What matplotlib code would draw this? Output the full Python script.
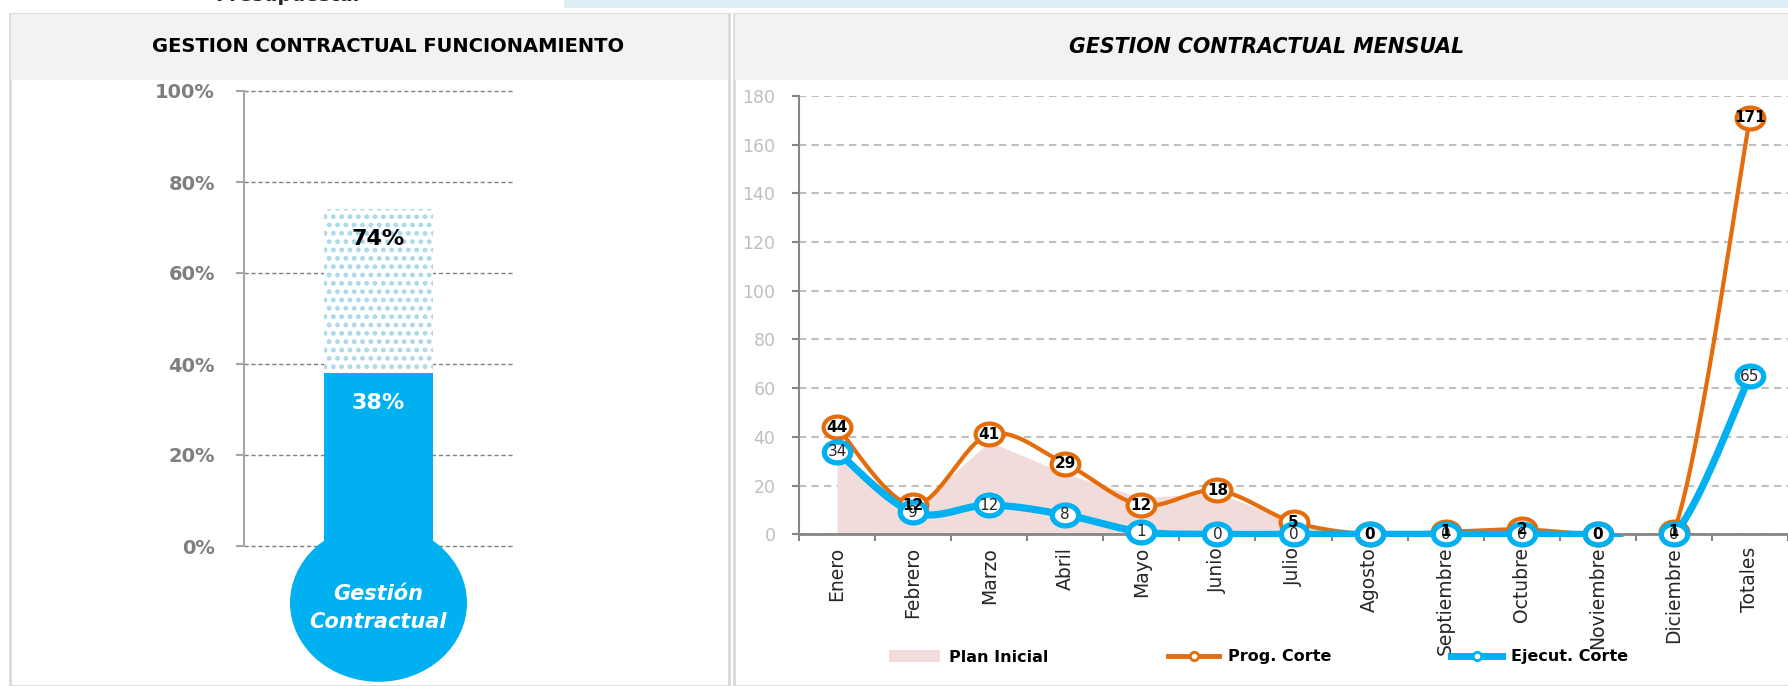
import numpy as np
import matplotlib.pyplot as plt
from matplotlib.patches import Rectangle, Ellipse, Patch
from matplotlib.lines import Line2D
from matplotlib.path import Path
from matplotlib.transforms import Affine2D

plt.rcParams['font.family'] = ['DejaVu Sans']
plt.rcParams['hatch.linewidth'] = 2.2

# datos del termometro
avance_prog = 74
avance_ejec = 38
pct_ticks = [0, 20, 40, 60, 80, 100]

# datos mensuales
meses = ['Enero', 'Febrero', 'Marzo', 'Abril', 'Mayo', 'Junio', 'Julio', 'Agosto',
         'Septiembre', 'Octubre', 'Noviembre', 'Diciembre', 'Totales']
plan_inicial = [34, 10, 38, 25, 15, 17, 5, 0, 0, 0, 0, 0, np.nan]
prog_corte = [44, 12, 41, 29, 12, 18, 5, 0, 1, 2, 0, 1, 171]
ejec_corte = [34, 9, 12, 8, 1, 0, 0, 0, 0, 0, 0, 0, 65]

NARANJA = '#E46C0A'
AZUL = '#00B0F0'
ROSA = '#F2DCDB'
W, H = 1788, 686


def fx(px):
    return px / W


def fy(py):
    # py medido desde arriba
    return 1 - py / H


def suavizar(x, y, n=30):
    # curva tipo Excel (bezier con puntos de control a 1/6)
    p = np.column_stack([x, y]).astype(float)
    out = []
    for i in range(len(p) - 1):
        p0 = p[i - 1] if i > 0 else p[i]
        p1, p2 = p[i], p[i + 1]
        p3 = p[i + 2] if i + 2 < len(p) else p[i + 1]
        c1 = p1 + (p2 - p0) / 6
        c2 = p2 - (p3 - p1) / 6
        t = np.linspace(0, 1, n)[:, None]
        seg = (1 - t) ** 3 * p1 + 3 * (1 - t) ** 2 * t * c1 + 3 * (1 - t) * t ** 2 * c2 + t ** 3 * p2
        out.append(seg if i == 0 else seg[1:])
    out = np.vstack(out)
    return out[:, 0], out[:, 1]


fig = plt.figure(figsize=(W / 100, H / 100), dpi=100)

# franja superior
fig.add_artist(Rectangle((fx(564), fy(8)), 1 - fx(564), 8 / H, transform=fig.transFigure,
                         facecolor='#DDEFF5', edgecolor='none', zorder=0))
fig.text(fx(287), fy(1), 'Presupuestal', ha='center', va='baseline', fontsize=14,
         fontweight='bold', color='#262626')

# paneles
for x0, x1 in [(10, 729), (734, 1800)]:
    fig.add_artist(Rectangle((fx(x0), 0), fx(x1 - x0), fy(14), transform=fig.transFigure,
                             facecolor='white', edgecolor='#D9D9D9', lw=2, zorder=0))
    fig.add_artist(Rectangle((fx(x0 + 1), fy(80)), fx(x1 - x0 - 2), 66 / H, transform=fig.transFigure,
                             facecolor='#F2F2F2', edgecolor='none', zorder=0))

fig.text(fx(388), fy(47), 'GESTION CONTRACTUAL FUNCIONAMIENTO', ha='center', va='center',
         fontsize=14, fontweight='bold', color='black')
fig.text(fx(1267), fy(47), 'GESTION CONTRACTUAL MENSUAL', ha='center', va='center',
         fontsize=14.8, fontweight='bold', fontstyle='italic', color='black')

# ---- termometro ----
ax1 = fig.add_axes([fx(244), fy(546), fx(513 - 244), (546 - 91) / H])
ax1.set_xlim(0, 1)
ax1.set_ylim(0, 100)
ax1.set_axisbelow(True)
ax1.yaxis.grid(True, color='#7F7F7F', lw=1, linestyle=(0, (3, 2)))
for gl in ax1.get_ygridlines():
    gl.set_clip_on(False)
for s in ['top', 'right', 'bottom']:
    ax1.spines[s].set_visible(False)
ax1.spines['left'].set_color('#A6A6A6')
ax1.spines['left'].set_linewidth(1.5)
ax1.set_xticks([])
ax1.set_yticks(pct_ticks)
ax1.set_yticklabels([f'{v}%' for v in pct_ticks])
ax1.tick_params(axis='y', length=6, width=1.5, color='#A6A6A6', pad=15, labelsize=14,
                labelcolor='#7F7F7F')
for t in ax1.get_yticklabels():
    t.set_fontweight('bold')

ax1.bar(0.5, avance_prog, width=0.405, color='white', edgecolor='#A8D8EA', hatch='..',
        linewidth=0, zorder=2)
ax1.bar(0.5, avance_ejec, width=0.405, color=AZUL, linewidth=0, zorder=3)
ax1.add_patch(Ellipse((0.5, -12.5), 0.658, 34.7, facecolor=AZUL, edgecolor='none',
                      clip_on=False, zorder=3))
ax1.text(0.5, avance_prog - 6.5, f'{avance_prog}%', ha='center', va='center', fontsize=16,
         fontweight='bold', color='black', zorder=5)
ax1.text(0.5, avance_ejec - 6.5, f'{avance_ejec}%', ha='center', va='center', fontsize=16,
         fontweight='bold', color='white', zorder=5)
ax1.text(0.5, -10.5, 'Gestión', ha='center', va='center', fontsize=15, fontweight='bold',
         fontstyle='italic', color='white', zorder=5)
ax1.text(0.5, -16.6, 'Contractual', ha='center', va='center', fontsize=15, fontweight='bold',
         fontstyle='italic', color='white', zorder=5)

# ---- mensual ----
ax2 = fig.add_axes([fx(799), fy(534.3), 1 - fx(799), (534.3 - 96) / H])
x = np.arange(len(meses))
ax2.set_xlim(-0.5, len(meses) - 0.5)
ax2.set_ylim(0, 180)
ax2.set_axisbelow(True)
ax2.yaxis.grid(True, color='#BFBFBF', lw=1.5, linestyle=(0, (3.5, 2.5)))
for s in ['top', 'right']:
    ax2.spines[s].set_visible(False)
ax2.spines['left'].set_color('#868686')
ax2.spines['left'].set_linewidth(1.5)
ax2.spines['bottom'].set_color('#868686')
ax2.spines['bottom'].set_linewidth(2)
ax2.set_yticks(range(0, 181, 20))
ax2.tick_params(axis='y', length=5, width=1.5, color='#868686', pad=12, labelsize=12.5,
                labelcolor='#BFBFBF')
ax2.set_xticks(np.arange(-0.5, len(meses), 1))
ax2.set_xticklabels([])
ax2.tick_params(axis='x', which='major', length=5, width=1.5, color='#868686')
ax2.set_xticks(x, minor=True)
ax2.set_xticklabels(meses, minor=True, rotation=90)
ax2.tick_params(axis='x', which='minor', length=0, pad=9, labelsize=13.5, labelcolor='#262626')

clip = Rectangle((0, -0.007), 1, 1.1, transform=ax2.transAxes)
ell = Affine2D().scale(1.27, 1.0).transform_path(Path.unit_circle())

ax2.fill_between(x, 0, plan_inicial, color=ROSA, lw=0, zorder=1)

xs, ys = suavizar(x, prog_corte)
ln, = ax2.plot(xs, ys, color=NARANJA, lw=3, zorder=3, solid_capstyle='round')
ln.set_clip_path(clip)
ax2.plot(x, prog_corte, ls='none', marker=ell, ms=20, mfc='white', mec=NARANJA, mew=3,
         zorder=4, clip_on=False)

xs, ys = suavizar(x, ejec_corte)
ln, = ax2.plot(xs, ys, color=AZUL, lw=5.2, zorder=5, solid_capstyle='butt')
ln.set_clip_path(clip)
ax2.plot(x, ejec_corte, ls='none', marker=ell, ms=19, mfc='white', mec=AZUL, mew=3.8,
         zorder=6, clip_on=False)

for i in x:
    ax2.text(i, ejec_corte[i], str(ejec_corte[i]), ha='center', va='center', fontsize=11,
             color='#262626', zorder=7)
    ax2.text(i, prog_corte[i], str(prog_corte[i]), ha='center', va='center', fontsize=11,
             fontweight='bold', color='black', zorder=8)

handles = [
    Patch(facecolor=ROSA, edgecolor='none'),
    Line2D([], [], color=NARANJA, lw=3.5, marker='o', ms=6, mfc='white', mec=NARANJA, mew=2),
    Line2D([], [], color=AZUL, lw=5, marker='o', ms=6, mfc='white', mec=AZUL, mew=2),
]
fig.legend(handles, ['Plan Inicial', 'Prog. Corte', 'Ejecut. Corte'], loc='center left',
           bbox_to_anchor=(fx(881), fy(657)), ncol=3, frameon=False, borderpad=0,
           handlelength=3.2, handletextpad=0.55, columnspacing=7.5,
           prop={'weight': 'bold', 'size': 11.5})

fig.savefig('out.png', dpi=100)
